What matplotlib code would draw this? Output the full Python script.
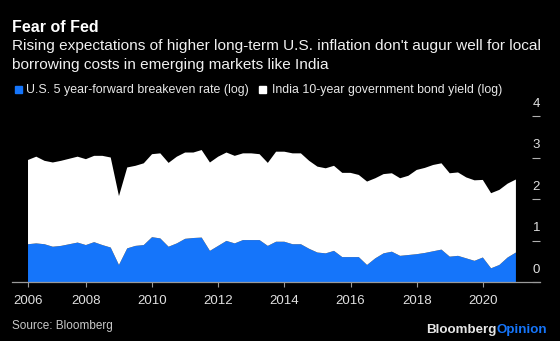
import numpy as np
import matplotlib
matplotlib.use('Agg')
import matplotlib.pyplot as plt
from matplotlib.patches import Rectangle

plt.rcParams['font.family'] = ['Liberation Sans', 'DejaVu Sans']

# quarterly observations, Q2 2006 .. Q1 2021
quarters = np.arange(2006.25, 2021.01, 0.25)

# log of U.S. 5y5y forward breakeven rate
us_breakeven_log = [0.91, 0.93, 0.91, 0.85, 0.87, 0.91, 0.95, 0.89, 0.96, 0.89,
                    0.83, 0.41, 0.81, 0.87, 0.89, 1.08, 1.05, 0.85, 0.93, 1.04,
                    1.06, 1.07, 0.75, 0.87, 0.99, 0.93, 1.01, 1.01, 1.01, 0.87,
                    0.97, 0.97, 0.91, 0.91, 0.80, 0.71, 0.69, 0.75, 0.60, 0.60,
                    0.60, 0.41, 0.57, 0.69, 0.73, 0.63, 0.65, 0.67, 0.70, 0.74,
                    0.78, 0.61, 0.63, 0.57, 0.51, 0.59, 0.33, 0.41, 0.59, 0.71]

# log of India 10-year government bond yield
india_yield_log = [2.03, 2.09, 2.01, 2.03, 2.05, 2.06, 2.07, 2.07, 2.08, 2.15,
                   2.17, 1.66, 1.95, 1.93, 1.97, 2.00, 2.05, 2.02, 2.09, 2.08,
                   2.06, 2.11, 2.13, 2.15, 2.13, 2.11, 2.09, 2.09, 2.07, 2.00,
                   2.17, 2.17, 2.19, 2.19, 2.12, 2.07, 2.05, 2.05, 2.03, 2.03,
                   1.98, 2.01, 1.93, 1.91, 1.89, 1.87, 1.91, 2.03, 2.05, 2.08,
                   2.08, 2.01, 2.01, 1.95, 1.94, 1.87, 1.81, 1.81, 1.78, 1.76]

year_ticks = [2006.25, 2008, 2010, 2012, 2014, 2016, 2018, 2020]
year_labels = ['2006', '2008', '2010', '2012', '2014', '2016', '2018', '2020']
y_ticks = [0, 1, 2, 3, 4]

blue = '#1575fa'
bg = '#000000'

fig = plt.figure(figsize=(5.6, 3.41), dpi=100, facecolor=bg)
ax = fig.add_axes([12 / 560, 1 - 282 / 341, 528 / 560, 166 / 341])
ax.set_facecolor(bg)

ax.stackplot(quarters, us_breakeven_log, india_yield_log,
             colors=[blue, 'white'], linewidth=0)

ax.set_xlim(2005.766, 2021.728)
ax.set_ylim(0, 4)

for s in ['top', 'left', 'right']:
    ax.spines[s].set_visible(False)
ax.spines['bottom'].set_color('#9a9a9a')
ax.spines['bottom'].set_linewidth(0.9)

ax.set_xticks(year_ticks)
ax.set_xticklabels(year_labels)
ax.tick_params(axis='x', colors='#9a9a9a', length=3.5, width=0.8,
               labelcolor='#e0e0e0', labelsize=9.5, pad=6)

ax.yaxis.tick_right()
ax.set_yticks(y_ticks)
ax.set_yticklabels([])
ax.tick_params(axis='y', direction='in', length=6, width=0.8, colors='#b0b0b0')
for v in y_ticks:
    ax.text(1.0, v + 0.29, str(v), transform=ax.get_yaxis_transform(),
            ha='right', va='center', color='#e0e0e0', fontsize=9.5)

# titles
fig.text(12 / 560, 1 - 32 / 341, 'Fear of Fed', color='white',
         fontsize=11.5, fontweight='bold', va='baseline')
fig.text(12 / 560, 1 - 50 / 341,
         "Rising expectations of higher long-term U.S. inflation don't augur well for local",
         color='#f0f0f0', fontsize=11.1, va='baseline')
fig.text(12 / 560, 1 - 68.5 / 341,
         'borrowing costs in emerging markets like India',
         color='#f0f0f0', fontsize=11.1, va='baseline')

# legend
fig.patches.append(Rectangle((15 / 560, 1 - 92.5 / 341), 7 / 560, 7 / 341,
                             transform=fig.transFigure, color=blue))
fig.text(26.5 / 560, 1 - 92.5 / 341, 'U.S. 5 year-forward breakeven rate (log)',
         color='#e8e8e8', fontsize=8.95, va='baseline')
fig.patches.append(Rectangle((259 / 560, 1 - 92.5 / 341), 7 / 560, 7 / 341,
                             transform=fig.transFigure, color='white'))
fig.text(271.5 / 560, 1 - 92.5 / 341, 'India 10-year government bond yield (log)',
         color='#e8e8e8', fontsize=8.95, va='baseline')

# footer
fig.text(12 / 560, 1 - 329 / 341, 'Source: Bloomberg', color='#c8c8c8',
         fontsize=8.5, va='baseline')
t = fig.text(547 / 560, 1 - 332.5 / 341, 'Opinion', color=blue,
             fontsize=9.6, fontweight='bold', va='baseline', ha='right')
fig.canvas.draw()
bb = t.get_window_extent()
fig.text(bb.x0 / fig.bbox.width, 1 - 332.5 / 341, 'Bloomberg', color='#e6e6e6',
         fontsize=9.6, fontweight='bold', va='baseline', ha='right')

fig.savefig('out.png', dpi=100, facecolor=bg)
